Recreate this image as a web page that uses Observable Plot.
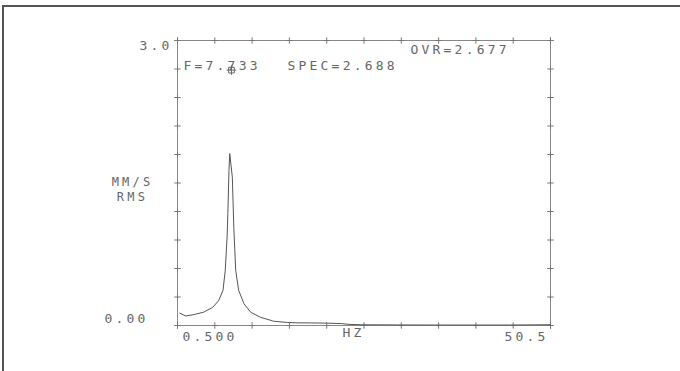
<!DOCTYPE html>
<html><head><meta charset="utf-8">
<script src="https://cdn.jsdelivr.net/npm/d3@7"></script>
<script src="https://cdn.jsdelivr.net/npm/@observablehq/plot@0.6"></script>
<style>
body{margin:0;background:#fff;}
#wrap{position:relative;width:680px;height:371px;overflow:hidden;background:#fff;}
#border{position:absolute;left:2px;top:5px;width:700px;height:400px;border-top:2px solid #555;border-left:2px solid #555;}
#chart{position:absolute;left:0;top:0;}
#chart svg text{letter-spacing:3.2px;}
</style></head><body>
<div id="wrap"><div id="border"></div><div id="chart"></div></div>
<script>
// Spectrum (Hz vs MM/S RMS)
const freqHz = [0.8, 1.6, 2.7, 4.0, 5.2, 6.0, 6.6, 6.9, 7.15, 7.25, 7.4, 7.5, 7.7, 7.85, 8.05, 8.3, 8.7, 9.4, 10.3, 11.6, 13.4, 15.2, 16.5, 18.5, 20.5, 22.5, 23.5, 25.0, 30.0, 35.0, 40.0, 45.0, 50.5];
const ampMmS = [0.13, 0.10, 0.115, 0.14, 0.19, 0.26, 0.37, 0.58, 0.93, 1.18, 1.63, 1.81, 1.67, 1.56, 1.03, 0.58, 0.37, 0.23, 0.14, 0.087, 0.045, 0.032, 0.028, 0.027, 0.025, 0.02, 0.012, 0.008, 0.006, 0.005, 0.005, 0.005, 0.008];

const xTicks = [0.5, 5.5, 10.5, 15.5, 20.5, 25.5, 30.5, 35.5, 40.5, 45.5, 50.5];
const yTicks = [0, 0.3, 0.6, 0.9, 1.2, 1.5, 1.8, 2.1, 2.4, 2.7, 3.0];
const xTickLabels = ["0.500", "50.5"];
const xTickValues = [0.5, 50.5];
const yTickLabels = ["0.00", "3.0"];
const yTickValues = [0, 3.0];

const cursorFreq = [7.733];
const cursorSpec = [2.688];
const readouts = ["F=7.733", "SPEC=2.688", "OVR=2.677"];
const unitLabel = "MM/S\nRMS";
const xLabel = "HZ";

const rows = freqHz.map((f, i) => ({f, a: ampMmS[i]}));
const cursor = cursorFreq.map((f, i) => ({f, s: cursorSpec[i]}));
const ink = "#666";
const tickStyle = {symbol: "plus", r: 2.2, stroke: "#777", strokeWidth: 1};

const plot = Plot.plot({
  width: 680, height: 371,
  marginLeft: 177, marginRight: 130, marginTop: 40, marginBottom: 46,
  x: {domain: [0.5, 50.5], axis: null},
  y: {domain: [0, 3], axis: null},
  style: {background: "transparent", fontFamily: "DejaVu Sans Mono", fontSize: "13px", color: ink},
  marks: [
    Plot.frame({stroke: "#888", strokeWidth: 1}),
    Plot.dot(xTicks, {x: d => d, y: 0, ...tickStyle}),
    Plot.dot(xTicks, {x: d => d, y: 3, ...tickStyle}),
    Plot.dot(yTicks, {x: 0.5, y: d => d, ...tickStyle}),
    Plot.dot(yTicks, {x: 50.5, y: d => d, ...tickStyle}),
    Plot.line(rows, {x: "f", y: "a", stroke: "#555", strokeWidth: 1}),
    // x tick labels
    Plot.text([0], {x: xTickValues[0], y: 0, text: [xTickLabels[0]], textAnchor: "start", dx: 5, dy: 11, fill: ink}),
    Plot.text([0], {x: xTickValues[1], y: 0, text: [xTickLabels[1]], textAnchor: "end", dx: -2, dy: 11, fill: ink}),
    Plot.text([0], {frameAnchor: "bottom", text: [xLabel], dx: -10.5, dy: 11, fill: ink}),
    // y tick labels
    Plot.text([0], {x: 0.5, y: yTickValues[0], text: [yTickLabels[0]], textAnchor: "end", dx: -29, dy: -7, fill: ink}),
    Plot.text([0], {x: 0.5, y: yTickValues[1], text: [yTickLabels[1]], textAnchor: "end", dx: -5, dy: 5, fill: ink}),
    Plot.text([0], {frameAnchor: "left", text: [unitLabel], textAnchor: "middle", dx: -45, dy: 6, fontSize: 12, lineHeight: 1.2, fill: ink}),
    // readouts
    Plot.text([0], {frameAnchor: "top-left", text: [readouts[0]], textAnchor: "start", dx: 6, dy: 20, fill: ink}),
    Plot.text([0], {frameAnchor: "top-left", text: [readouts[1]], textAnchor: "start", dx: 110, dy: 20, fill: ink}),
    Plot.text([0], {frameAnchor: "top-left", text: [readouts[2]], textAnchor: "start", dx: 233, dy: 4, fill: ink}),
    // cursor marker
    Plot.dot(cursor, {x: "f", y: "s", symbol: "square", r: 3.2, stroke: ink, strokeWidth: 1}),
    Plot.dot(cursor, {x: "f", y: "s", symbol: "plus", r: 3.2, stroke: ink, strokeWidth: 1})
  ]
});
document.getElementById("chart").appendChild(plot);
</script>
</body></html>
